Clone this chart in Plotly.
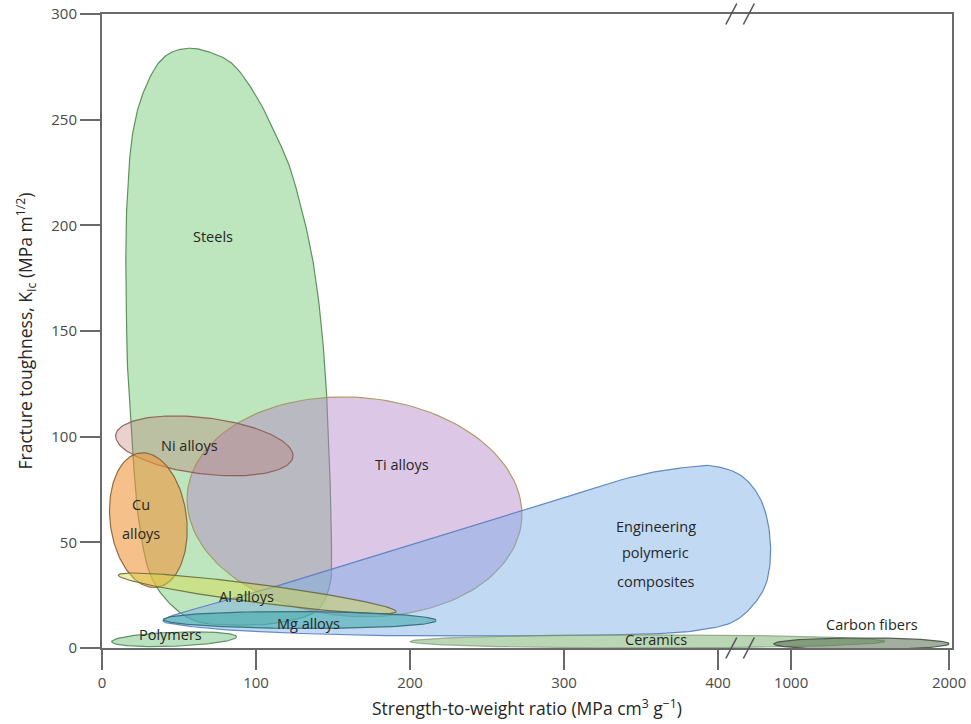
import numpy as np
import plotly.graph_objects as go

# ---------------- data ----------------
# broken x axis: real value -> axis position
BREAK_REAL = [0, 435, 1000, 2000]
BREAK_AXIS = [0, 435, 447.4, 550]

x_tick_values = [0, 100, 200, 300, 400, 1000, 2000]
x_tick_labels = ["0", "100", "200", "300", "400", "1000", "2000"]
y_tick_values = [0, 50, 100, 150, 200, 250, 300]

# Steels outline (strength-to-weight, toughness)
steels_x = [16, 15.6, 15.6, 16.4, 17.7, 20.3, 25.8, 36.6, 45.2, 57.1, 70.1, 84.2, 100.4, 111.3, 121, 127.5,
            132.9, 137.2, 141.6, 145, 147, 149, 148, 140, 115, 80, 62, 48.5, 33, 24.7, 19.3, 17]
steels_y = [150, 166, 198, 213.6, 229.4, 245.1, 260.9, 276.7, 281.9, 283.8, 281.9, 276.7, 260.9, 245.1, 229.4, 213.6,
            197.8, 182.1, 158.4, 130, 100, 50, 30, 18, 12, 11, 12.5, 18, 32, 56, 100, 125]

# Engineering polymeric composites outline
comp_x = [258, 161, 83, 50.6, 39.6, 111.2, 272.5, 349.4, 381.8, 394.8, 414.3, 427.3, 433.8, 431.6, 422.9, 409.9, 388.3, 366.7]
comp_y = [5.7, 6.2, 8.5, 10.9, 12.8, 28.8, 64.7, 81.9, 85.7, 86.3, 81.9, 70.8, 51.9, 31.4, 20.4, 12.4, 8.5, 7.0]

# Elliptical property regions: major-axis end points and minor semi-axis (toughness units)
ell_names = ["Ti alloys", "Ni alloys", "Cu alloys", "Al alloys", "Mg alloys", "Polymers", "Ceramics", "Carbon fibers"]
ell_x1 = [55.4, 8.9, 24.7, 10.6, 39.8, 6.3, 200, 490]
ell_y1 = [73.0, 100.8, 92.3, 34.5, 13.5, 3.0, 3.1, 2.0]
ell_x2 = [272.5, 124, 35.5, 191, 217, 87.4, 1595, 2010]
ell_y2 = [60.6, 90.5, 28.7, 17.2, 13.0, 5.3, 3.1, 2.0]
ell_minor = [51.8, 13.3, 18.1, 4.3, 4.0, 3.3, 3.1, 2.8]

label_text = ["Steels", "Ni alloys", "Ti alloys", "Cu", "alloys", "Engineering", "polymeric", "composites",
              "Al alloys", "Mg alloys", "Polymers", "Ceramics", "Carbon fibers"]
label_x = [72, 56.5, 194.8, 25.3, 25.3, 359.7, 359.7, 359.7, 93.5, 134.4, 44.2, 359.7, 1513]
label_y = [194.5, 95.6, 86.6, 67.7, 54.4, 57.7, 45.0, 31.7, 24.6, 11.4, 6.6, 3.8, 10.9]

# ---------------- layout / styling ----------------
W, H = 971, 724
M = dict(l=102, r=19, t=14, b=76)
X_RANGE = [0, 551.9]
Y_RANGE = [0, 300]
SX = (W - M["l"] - M["r"]) / (X_RANGE[1] - X_RANGE[0])
SY = (H - M["t"] - M["b"]) / (Y_RANGE[1] - Y_RANGE[0])
FONT = "Open Sans"


def fx(x):
    return np.interp(np.asarray(x, dtype=float), BREAK_REAL, BREAK_AXIS)


def ellipse(x1, y1, x2, y2, b, n=160):
    # built in screen-proportional space so rotation looks right
    px1, py1 = fx(x1) * SX, y1 * SY
    px2, py2 = fx(x2) * SX, y2 * SY
    cx, cy = (px1 + px2) / 2, (py1 + py2) / 2
    a = np.hypot(px2 - px1, py2 - py1) / 2
    th = np.arctan2(py2 - py1, px2 - px1)
    bb = b * SY
    t = np.linspace(0, 2 * np.pi, n)
    X = cx + a * np.cos(t) * np.cos(th) - bb * np.sin(t) * np.sin(th)
    Y = cy + a * np.cos(t) * np.sin(th) + bb * np.sin(t) * np.cos(th)
    return X / SX, Y / SY


def smooth_closed(xs, ys, n_per=16, alpha=0.5):
    # centripetal Catmull-Rom through the outline points, in screen-proportional space
    P = np.column_stack([fx(xs) * SX, np.asarray(ys, dtype=float) * SY])
    N = len(P)
    out = []
    for i in range(N):
        p0, p1, p2, p3 = P[i - 1], P[i], P[(i + 1) % N], P[(i + 2) % N]
        t0 = 0.0
        t1 = t0 + max(np.linalg.norm(p1 - p0), 1e-6) ** alpha
        t2 = t1 + max(np.linalg.norm(p2 - p1), 1e-6) ** alpha
        t3 = t2 + max(np.linalg.norm(p3 - p2), 1e-6) ** alpha
        t = np.linspace(t1, t2, n_per, endpoint=False)[:, None]
        A1 = (t1 - t) / (t1 - t0) * p0 + (t - t0) / (t1 - t0) * p1
        A2 = (t2 - t) / (t2 - t1) * p1 + (t - t1) / (t2 - t1) * p2
        A3 = (t3 - t) / (t3 - t2) * p2 + (t - t2) / (t3 - t2) * p3
        B1 = (t2 - t) / (t2 - t0) * A1 + (t - t0) / (t2 - t0) * A2
        B2 = (t3 - t) / (t3 - t1) * A2 + (t - t1) / (t3 - t1) * A3
        C = (t2 - t) / (t2 - t1) * B1 + (t - t1) / (t2 - t1) * B2
        out.append(C)
    C = np.vstack(out + [out[0][:1]])
    return C[:, 0] / SX, C[:, 1] / SY


styles = {
    "Steels": ("rgba(110,200,110,0.45)", "rgba(80,135,80,0.9)"),
    "Ti alloys": ("rgba(180,130,200,0.45)", "rgba(165,150,90,0.9)"),
    "Ni alloys": ("rgba(185,115,105,0.33)", "rgba(140,90,80,0.9)"),
    "Cu alloys": ("rgba(240,150,60,0.6)", "rgba(135,95,55,0.9)"),
    "Engineering polymeric composites": ("rgba(120,170,230,0.45)", "rgba(85,125,190,0.9)"),
    "Al alloys": ("rgba(215,220,70,0.45)", "rgba(105,105,60,0.9)"),
    "Mg alloys": ("rgba(60,170,170,0.55)", "rgba(50,105,115,0.9)"),
    "Polymers": ("rgba(120,195,130,0.5)", "rgba(80,140,90,0.9)"),
    "Ceramics": ("rgba(130,180,120,0.55)", "rgba(120,150,110,0.7)"),
    "Carbon fibers": ("rgba(85,110,80,0.55)", "rgba(70,80,70,0.9)"),
}

fig = go.Figure()


def add_region(name, xs, ys):
    fill, line = styles[name]
    fig.add_trace(go.Scatter(
        x=xs, y=ys, mode="lines", fill="toself", fillcolor=fill,
        line=dict(color=line, width=1.2),
        name=name, showlegend=False, hoverinfo="name",
    ))


sx_, sy_ = smooth_closed(steels_x, steels_y)
add_region("Steels", sx_, sy_)
order = ["Ti alloys", "Ni alloys", "Cu alloys", "COMP", "Al alloys", "Mg alloys", "Polymers", "Ceramics", "Carbon fibers"]
for nm in order:
    if nm == "COMP":
        cx_, cy_ = smooth_closed(comp_x, comp_y)
        add_region("Engineering polymeric composites", cx_, cy_)
        continue
    i = ell_names.index(nm)
    ex, ey = ellipse(ell_x1[i], ell_y1[i], ell_x2[i], ell_y2[i], ell_minor[i])
    add_region(nm, ex, ey)

for t, x, y in zip(label_text, label_x, label_y):
    fig.add_annotation(x=float(fx(x)), y=y, text=t, showarrow=False,
                       font=dict(family=FONT, size=14.5, color="#262626"))

axis_col = "#6a6a6a"
fig.update_xaxes(range=X_RANGE, tickvals=list(fx(x_tick_values)), ticktext=x_tick_labels,
                 showgrid=False, zeroline=False, showline=True, mirror=True, automargin=False,
                 ticklabeloverflow="allow",
                 linecolor=axis_col, linewidth=2, ticks="outside", ticklen=20, tickwidth=2,
                 tickcolor=axis_col, tickfont=dict(family=FONT, size=15, color="#4a4a4a"),
                 title=dict(text="Strength-to-weight ratio (MPa cm<sup>3</sup> g<sup>−1</sup>)",
                            font=dict(family=FONT, size=17.5, color="#262626"), standoff=12))
fig.update_yaxes(range=Y_RANGE, tickvals=y_tick_values,
                 showgrid=False, zeroline=False, showline=True, mirror=True, automargin=False,
                 ticklabeloverflow="allow",
                 linecolor=axis_col, linewidth=2, ticks="outside", ticklen=20, tickwidth=2,
                 tickcolor=axis_col, tickfont=dict(family=FONT, size=15, color="#4a4a4a"),
                 title=dict(text="Fracture toughness, K<sub>Ic</sub> (MPa m<sup>1/2</sup>)",
                            font=dict(family=FONT, size=17.5, color="#262626"), standoff=14))

# axis-break marks (top and bottom), placed just right of the 400 tick
brk_centers = [fx(400) + 8.6, fx(400) + 20.0]
half_w = 5.5 / SX
half_h = 10.5 / (H - M["t"] - M["b"])
for yc in (0.0, 1.0):
    for xc in brk_centers:
        fig.add_shape(type="line", xref="x", yref="paper",
                      x0=xc - half_w, x1=xc + half_w, y0=yc - half_h, y1=yc + half_h,
                      line=dict(color="#555555", width=1.6))

fig.update_layout(width=W, height=H, margin=M, plot_bgcolor="white", paper_bgcolor="white",
                  showlegend=False, font=dict(family=FONT))

# remove the page's default body margin so the figure fills the window exactly
fig.write_html("out.html", config={"displayModeBar": False},
               post_script="document.body.style.margin='0';")
